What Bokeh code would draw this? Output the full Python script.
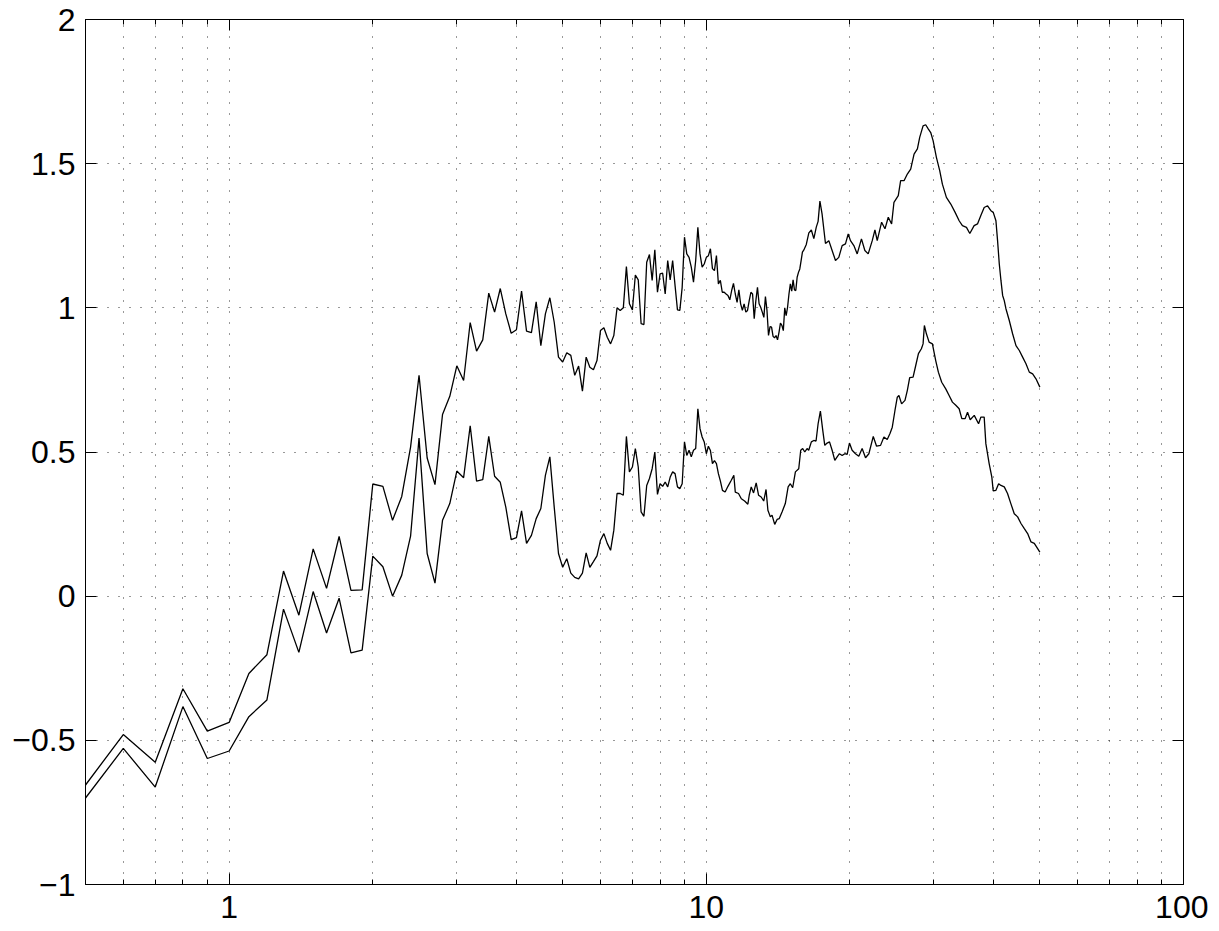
from bokeh.plotting import figure
from bokeh.models import FixedTicker, LogAxis, LinearAxis
from bokeh.embed import file_html
from bokeh.resources import INLINE

# ---------------- data ----------------
# upper curve: evenly spaced samples 0.5 .. 15.9 (step 0.1), then sparser
upper_grid = [round(0.5 + 0.1 * i, 1) for i in range(155)]
upper_grid_vals = [
    -0.655, -0.480, -0.576, -0.321, -0.468, -0.438, -0.268, -0.203, 0.087, -0.066,
    0.164, 0.027, 0.207, 0.020, 0.022, 0.389, 0.381, 0.263, 0.346, 0.517,
    0.766, 0.479, 0.387, 0.630, 0.693, 0.799, 0.748, 0.949, 0.850, 0.889,
    1.051, 0.985, 1.067, 0.979, 0.912, 0.924, 1.058, 0.919, 0.914, 1.021,
    0.869, 0.979, 1.035, 0.950, 0.829, 0.812, 0.844, 0.835, 0.766, 0.798,
    0.711, 0.829, 0.794, 0.785, 0.817, 0.921, 0.931, 0.898, 0.875, 0.904,
    1.000, 0.991, 1.000, 1.143, 1.014, 0.993, 1.114, 1.097, 0.945, 0.942,
    1.158, 1.185, 1.095, 1.201, 1.054, 1.118, 1.120, 1.048, 1.164, 1.097,
    1.164, 1.077, 0.993, 0.991, 1.071, 1.245, 1.187, 1.175, 1.141, 1.089,
    1.164, 1.279, 1.187, 1.141, 1.152, 1.175, 1.181, 1.205, 1.136, 1.129,
    1.181, 1.083, 1.095, 1.054, 1.054, 1.048, 1.043, 1.028, 1.060, 1.085,
    1.048, 1.019, 1.062, 1.014, 0.991, 1.014, 0.985, 0.991, 1.025, 1.054,
    1.048, 0.962, 1.025, 1.071, 1.014, 1.002, 0.985, 0.967, 1.039, 0.991,
    0.904, 0.935, 0.933, 0.901, 0.896, 0.904, 0.889, 0.915, 0.947, 0.939,
    0.921, 1.000, 0.973, 1.002, 1.048, 1.083, 1.058, 1.097, 1.062, 1.060,
    1.106, 1.123, 1.135, 1.164, 1.193,
]
upper_tail_freq = [
    16.0, 16.2, 16.4, 16.6, 16.8, 17.0, 17.15, 17.3, 17.48, 17.77,
    18.06, 18.35, 18.65, 18.95, 19.26, 19.57, 19.83, 20.05, 20.38, 20.71,
    21.14, 21.49, 21.84, 22.27, 22.56, 22.81, 23.30, 23.68, 24.06, 24.45,
    24.73, 25.25, 25.54, 25.96, 26.38, 26.81, 27.25, 27.69, 28.00, 28.46,
    28.82, 29.20, 29.53, 29.87, 30.35, 30.84, 31.24, 31.85, 32.53, 33.22,
    33.87, 34.41, 35.09, 35.66, 36.41, 37.01, 37.61, 38.22, 38.85, 39.48,
    39.93, 40.45, 40.77, 41.11, 41.44, 41.78, 42.11, 42.45, 43.14, 43.84,
    44.56, 45.28, 46.01, 46.76, 47.52, 48.29, 49.07, 50.0,
]
upper_tail_vals = [
    1.200, 1.220, 1.260, 1.270, 1.240, 1.280, 1.300, 1.370, 1.326, 1.223,
    1.233, 1.199, 1.164, 1.175, 1.216, 1.222, 1.256, 1.233, 1.216, 1.187,
    1.239, 1.199, 1.187, 1.233, 1.270, 1.233, 1.297, 1.274, 1.314, 1.291,
    1.366, 1.389, 1.441, 1.441, 1.464, 1.481, 1.533, 1.551, 1.591, 1.631,
    1.635, 1.620, 1.608, 1.580, 1.522, 1.476, 1.429, 1.383, 1.360, 1.331,
    1.302, 1.285, 1.279, 1.258, 1.285, 1.291, 1.320, 1.348, 1.354, 1.337,
    1.331, 1.302, 1.233, 1.152, 1.095, 1.043, 1.025, 0.997, 0.956, 0.910,
    0.869, 0.852, 0.829, 0.806, 0.777, 0.771, 0.754, 0.725,
]

# lower curve: evenly spaced samples 0.5 .. 10.7 (step 0.1), then sparser
lower_grid = [round(0.5 + 0.1 * i, 1) for i in range(103)]
lower_grid_vals = [
    -0.700, -0.528, -0.662, -0.383, -0.563, -0.537, -0.418, -0.360, -0.045, -0.195,
    0.016, -0.128, -0.007, -0.197, -0.187, 0.139, 0.102, 0.000, 0.073, 0.208,
    0.548, 0.148, 0.045, 0.263, 0.321, 0.434, 0.411, 0.591, 0.399, 0.404,
    0.554, 0.416, 0.395, 0.309, 0.196, 0.203, 0.296, 0.183, 0.211, 0.269,
    0.304, 0.419, 0.483, 0.309, 0.148, 0.100, 0.130, 0.080, 0.065, 0.060,
    0.080, 0.150, 0.100, 0.120, 0.140, 0.194, 0.217, 0.183, 0.159, 0.229,
    0.356, 0.356, 0.350, 0.554, 0.431, 0.448, 0.512, 0.448, 0.292, 0.277,
    0.384, 0.408, 0.442, 0.500, 0.353, 0.390, 0.381, 0.396, 0.379, 0.413,
    0.431, 0.425, 0.379, 0.373, 0.390, 0.535, 0.488, 0.506, 0.483, 0.506,
    0.512, 0.650, 0.581, 0.552, 0.535, 0.494, 0.520, 0.505, 0.460, 0.470,
    0.460, 0.425, 0.400,
]
lower_tail_freq = [
    10.81, 10.95, 11.10, 11.28, 11.42, 11.50, 11.68, 11.84, 12.03, 12.22,
    12.30, 12.42, 12.56, 12.72, 12.87, 13.03, 13.19, 13.34, 13.46, 13.62,
    13.73, 13.91, 14.07, 14.22, 14.41, 14.64, 14.84, 15.00, 15.17, 15.37,
    15.62, 15.77, 15.92, 16.08, 16.26, 16.39, 16.60, 16.80, 16.98, 17.15,
    17.34, 17.54, 17.71, 17.91, 18.12, 18.35, 18.59, 18.80, 19.01, 19.26,
    19.51, 19.73, 19.95, 20.21, 20.54, 20.87, 21.21, 21.56, 21.91, 22.38,
    22.74, 23.18, 23.56, 23.94, 24.26, 24.53, 24.85, 25.13, 25.33, 25.66,
    26.08, 26.38, 26.68, 27.12, 27.47, 27.83, 28.23, 28.46, 28.64, 28.92,
    29.30, 29.77, 30.25, 30.64, 31.14, 31.75, 32.27, 32.79, 33.33, 33.87,
    34.31, 34.87, 35.27, 35.73, 36.43, 37.20, 37.61, 38.22, 38.53, 39.15,
    39.66, 39.92, 40.45, 40.98, 41.44, 42.11, 42.78, 43.47, 44.19, 44.92,
    45.65, 46.39, 47.14, 47.91, 48.68, 49.47, 50.0,
]
lower_tail_vals = [
    0.367, 0.361, 0.381, 0.402, 0.419, 0.361, 0.356, 0.338, 0.330, 0.319,
    0.350, 0.379, 0.358, 0.393, 0.350, 0.344, 0.330, 0.370, 0.298, 0.275,
    0.281, 0.249, 0.266, 0.269, 0.292, 0.321, 0.379, 0.390, 0.376, 0.431,
    0.442, 0.506, 0.512, 0.500, 0.512, 0.506, 0.535, 0.540, 0.538, 0.598,
    0.642, 0.575, 0.523, 0.531, 0.535, 0.506, 0.471, 0.483, 0.494, 0.488,
    0.494, 0.492, 0.531, 0.506, 0.494, 0.485, 0.512, 0.480, 0.494, 0.554,
    0.520, 0.523, 0.552, 0.543, 0.564, 0.586, 0.644, 0.690, 0.696, 0.667,
    0.679, 0.714, 0.758, 0.760, 0.800, 0.841, 0.858, 0.875, 0.939, 0.910,
    0.881, 0.875, 0.817, 0.777, 0.742, 0.719, 0.696, 0.673, 0.662, 0.650,
    0.616, 0.616, 0.638, 0.612, 0.627, 0.598, 0.621, 0.621, 0.529, 0.460,
    0.413, 0.365, 0.367, 0.390, 0.384, 0.379, 0.356, 0.321, 0.286, 0.275,
    0.252, 0.234, 0.217, 0.188, 0.183, 0.165, 0.153,
]

x_major = [1, 10, 100]
x_minor = [0.6, 0.7, 0.8, 0.9, 2, 3, 4, 5, 6, 7, 8, 9,
           20, 30, 40, 50, 60, 70, 80, 90]
y_major = [-1, -0.5, 0, 0.5, 1, 1.5, 2]
y_labels = {-1: "\u22121", -0.5: "\u22120.5", 0: "0", 0.5: "0.5",
            1: "1", 1.5: "1.5", 2: "2"}

upper_x = upper_grid + upper_tail_freq
upper_y = upper_grid_vals + upper_tail_vals
lower_x = lower_grid + lower_tail_freq
lower_y = lower_grid_vals + lower_tail_vals

# ---------------- figure ----------------
FONT = "Liberation Sans"
p = figure(width=1208, height=930, x_axis_type="log",
           x_range=(0.5, 100), y_range=(-1, 2),
           output_backend="svg", toolbar_location=None,
           min_border_left=85, min_border_right=25,
           min_border_top=19, min_border_bottom=46)
p.background_fill_color = "white"
p.border_fill_color = "white"
p.outline_line_color = "black"
p.outline_line_width = 1

xt = FixedTicker(ticks=x_major, minor_ticks=x_minor)
yt = FixedTicker(ticks=y_major, minor_ticks=[])
p.xaxis.ticker = xt
p.yaxis.ticker = yt
p.xaxis.major_label_overrides = {1: "1", 10: "10", 100: "100"}
p.yaxis.major_label_overrides = y_labels

for ax in (p.xaxis[0], p.yaxis[0]):
    ax.axis_line_color = "black"
    ax.axis_line_width = 1
    ax.major_tick_in = 11
    ax.major_tick_out = 0
    ax.minor_tick_in = 5
    ax.minor_tick_out = 0
    ax.major_tick_line_color = "black"
    ax.minor_tick_line_color = "black"
    ax.major_label_text_font = FONT
    ax.major_label_text_font_size = "32px"
    ax.major_label_text_color = "black"
p.xaxis.major_label_standoff = 11
p.yaxis.major_label_standoff = 10

top = LogAxis(ticker=FixedTicker(ticks=x_major, minor_ticks=x_minor))
right = LinearAxis(ticker=FixedTicker(ticks=y_major, minor_ticks=[]))
for ax in (top, right):
    ax.axis_line_color = "black"
    ax.major_tick_in = 11
    ax.major_tick_out = 0
    ax.minor_tick_in = 5
    ax.minor_tick_out = 0
    ax.major_label_text_font_size = "1px"
    ax.major_label_text_alpha = 0
    ax.major_label_standoff = 0
    ax.major_tick_line_color = "black"
    ax.minor_tick_line_color = "black"
p.add_layout(top, "above")
p.add_layout(right, "right")

for g in (p.xgrid[0], p.ygrid[0]):
    g.grid_line_color = "black"
    g.grid_line_alpha = 0.8
    g.grid_line_dash = "1 10"
    g.grid_line_width = 1
p.xgrid.minor_grid_line_color = "black"
p.xgrid.minor_grid_line_alpha = 0.8
p.xgrid.minor_grid_line_dash = "1 10"

p.line(upper_x, upper_y, line_color="black", line_width=1.3)
p.line(lower_x, lower_y, line_color="black", line_width=1.3)

open("out.html", "w").write(file_html(p, INLINE))
